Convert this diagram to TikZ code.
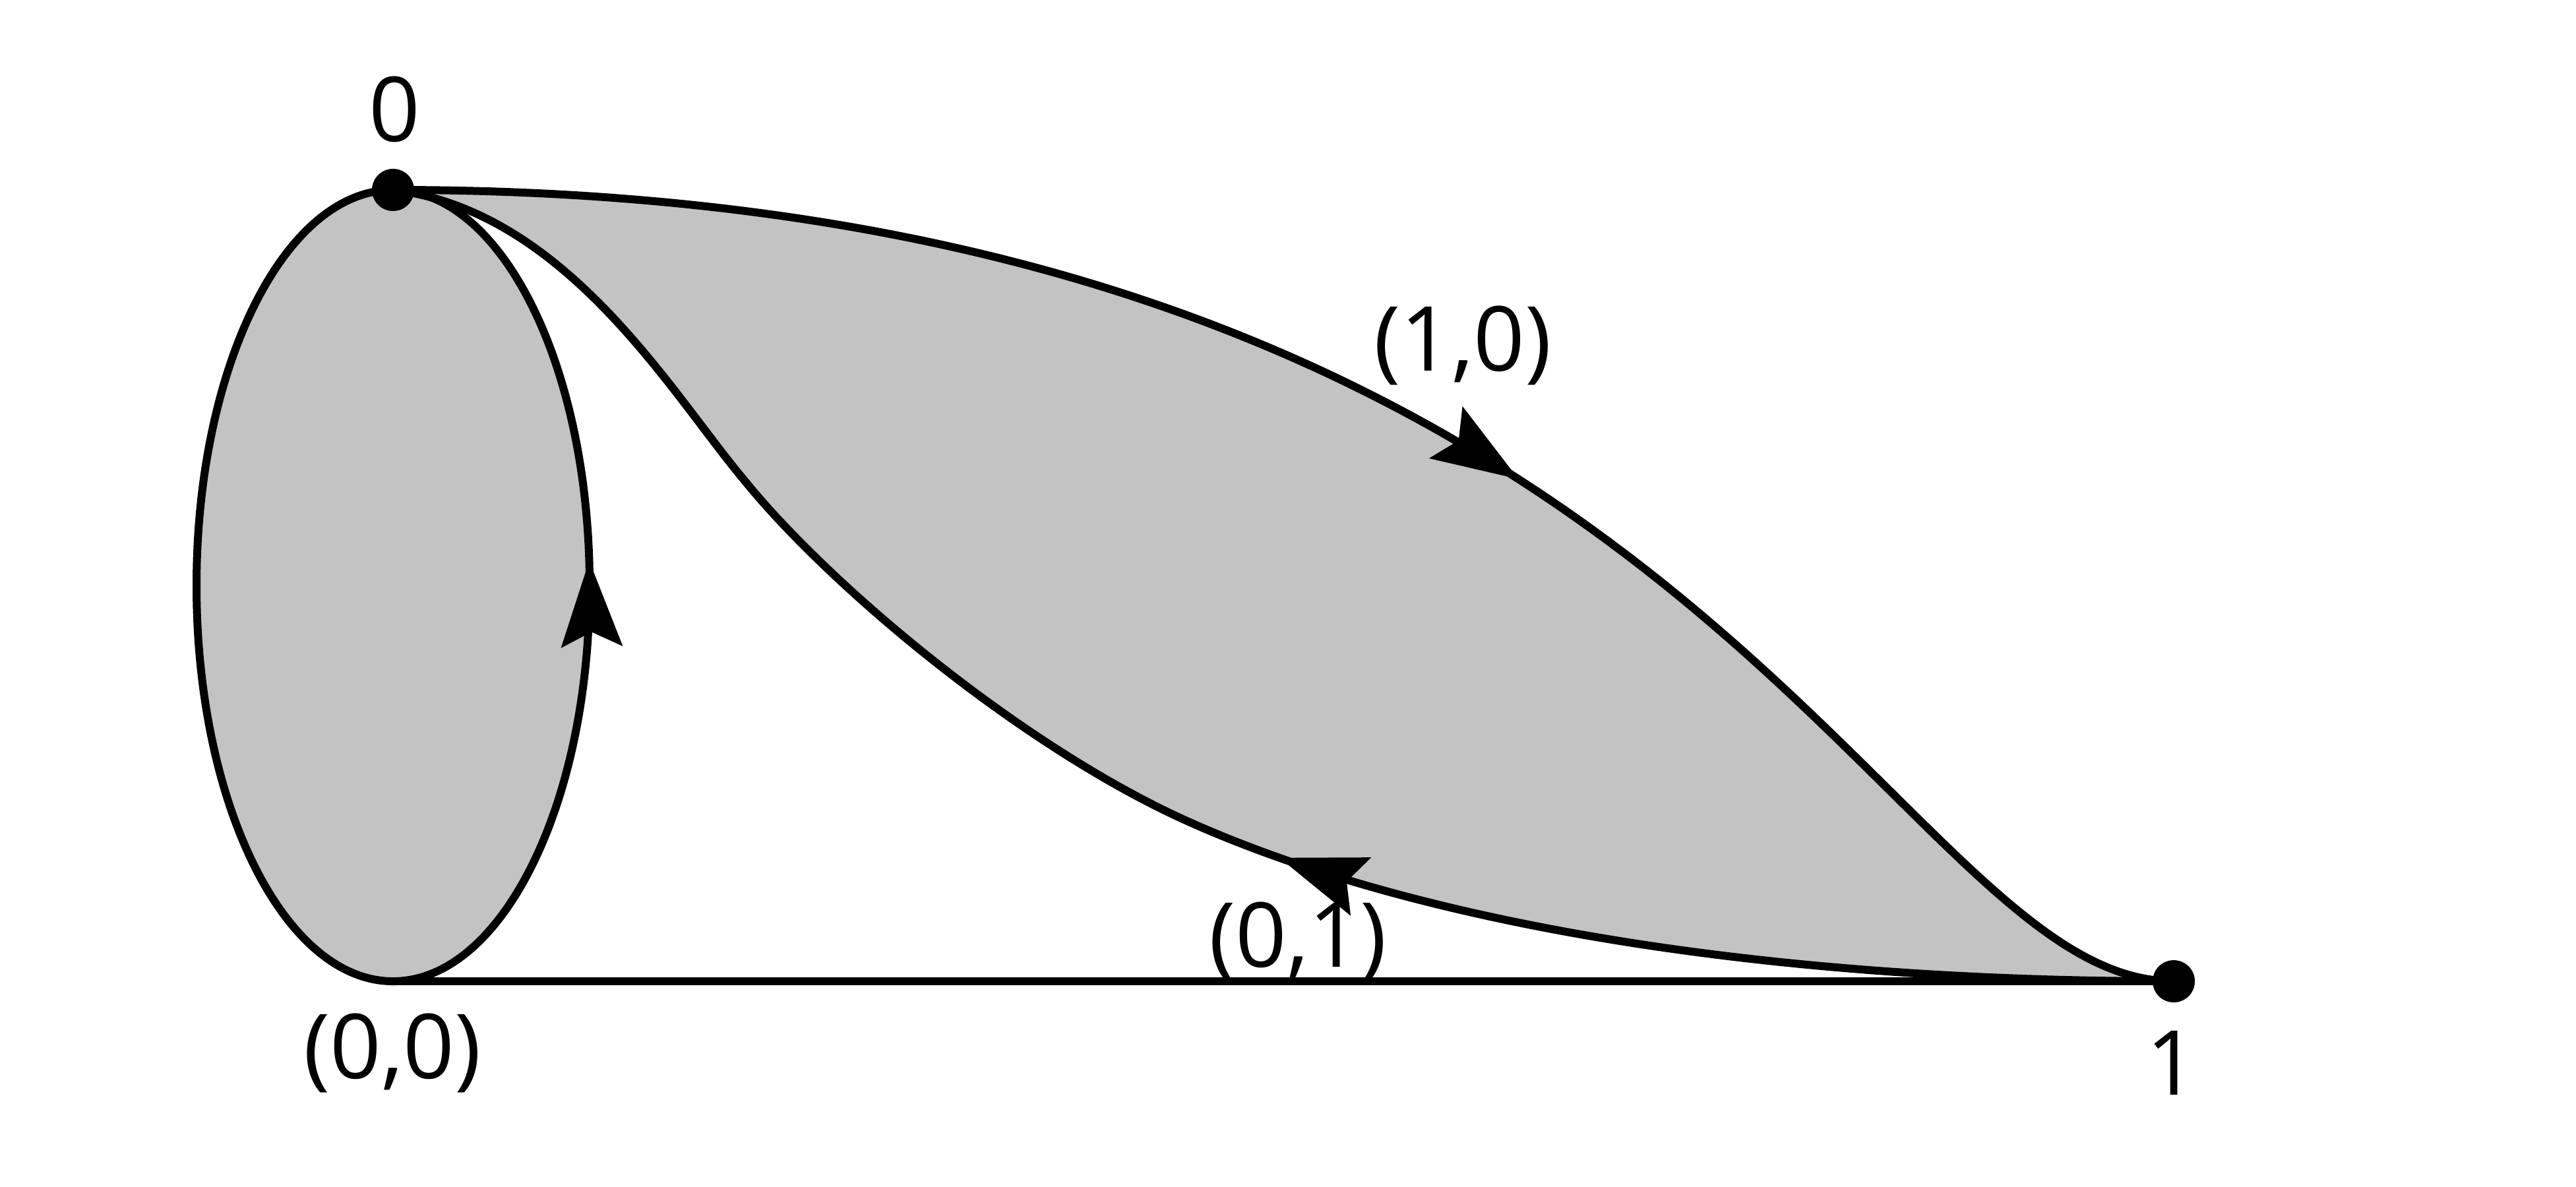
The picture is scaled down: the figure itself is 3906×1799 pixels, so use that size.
\documentclass[tikz,border=0pt]{standalone}
\usepackage{fontspec}
\setmainfont{Open Sans}
\usetikzlibrary{arrows.meta,decorations.markings}
\definecolor{regiongray}{RGB}{195,195,195}
\tikzset{
  curve/.style={line width=1.2pt, black},
  dotpt/.style={circle, fill=black, inner sep=0pt, minimum size=6.4pt},
  lbl/.style={font=\fontsize{13.6}{16}\selectfont, inner sep=0pt},
  tipfwd/.style={postaction={decorate}, decoration={markings,
     mark=at position #1 with {\arrow{Stealth[length=13pt,width=9.2pt,inset=2.2pt]}}}},
  tiprev/.style={postaction={decorate}, decoration={markings,
     mark=at position #1 with {\arrowreversed{Stealth[length=13pt,width=9.2pt,inset=2.2pt]}}}}
}
\begin{document}
\begin{tikzpicture}[x=0.1pt, y=-0.1pt]
\useasboundingbox (0,0) rectangle (3906,1799);
\coordinate (p0) at (596,288);
\coordinate (p00) at (596,1488);
\coordinate (p1) at (3296,1488);
\coordinate (ec) at (596,888);
% fills
\fill[regiongray] (ec) ellipse [x radius=298, y radius=600];
\fill[regiongray] (p0) .. controls (2575,287) and (2862,1488) .. (p1)
  .. controls (2596,1488) and (2100,1380) .. (1800,1245)
  .. controls (1550,1132.5) and (1260,890) .. (1130,730)
  .. controls (1020,600) and (860,320) .. (p0) -- cycle;
% ellipse
\draw[curve, tiprev=0.987] (ec) ellipse [x radius=298, y radius=600];
% horizontal line
\draw[curve] (p00) -- (p1);
% upper curve (1,0)
\draw[curve, tipfwd=0.585] (p0) .. controls (2575,287) and (2862,1488) .. (p1);
% lower curve (0,1)
\draw[curve, tiprev=0.555] (p0) .. controls (860,320) and (1020,600) .. (1130,730)
  .. controls (1260,890) and (1550,1132.5) .. (1800,1245)
  .. controls (2100,1380) and (2596,1488) .. (p1);
% dots
\node[dotpt] (d0) at (p0) {};
\node[dotpt] (d1) at (p1) {};
% labels
\node[lbl] (l0) at (598,166) {0};
\node[lbl] (l00) at (595,1597) {(0,0)};
\node[lbl] (l1) at (3293,1612) {1};
\node[lbl] (l10) at (2218,524) {(1,0)};
\node[lbl] (l01) at (1968,1428) {(0,1)};
\end{tikzpicture}
\end{document}
